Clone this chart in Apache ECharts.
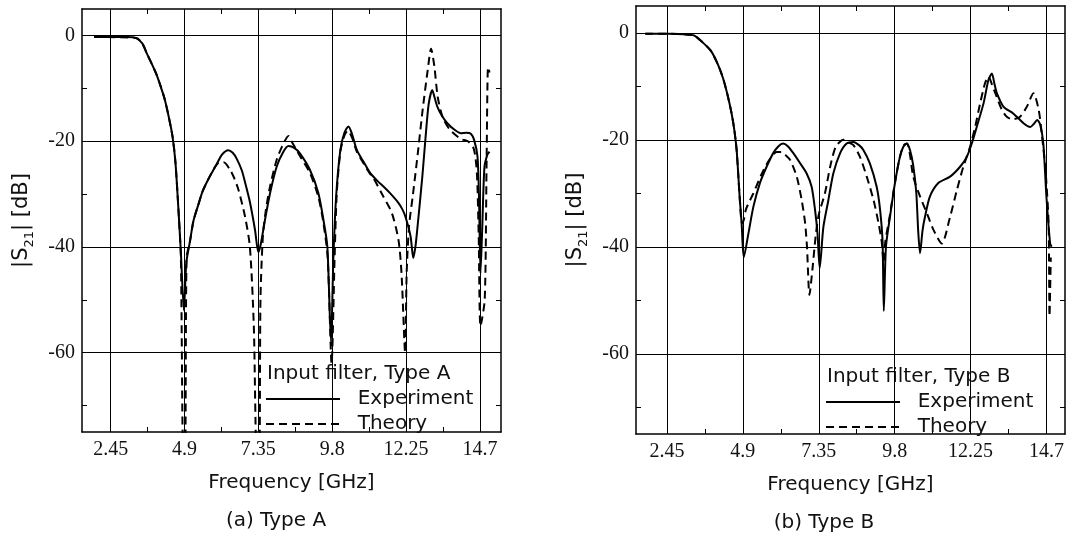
<!DOCTYPE html>
<html>
<head>
<meta charset="utf-8">
<script src="https://cdn.jsdelivr.net/npm/echarts@6/dist/echarts.min.js"></script>
<style>
  html, body { margin: 0; padding: 0; background: #fff; }
  #chart { width: 1068px; height: 537px; }
</style>
</head>
<body>
<div id="chart"></div>
<script>
// tick positions (GHz / dB)
var freqTicks = [2.45, 4.9, 7.35, 9.8, 12.25, 14.7];
var freqMinor = [3.675, 6.125, 8.575, 11.025, 13.475];
var dbTicks = [0, -20, -40, -60];
var dbMinor = [-10, -30, -50, -70];

// (a) Type A  -- [frequency GHz, |S21| dB]
var expA = [
  [1.9,-0.3],[2.5,-0.3],[3.0,-0.3],[3.3,-0.5],[3.5,-1.5],[3.65,-3.4],[3.8,-5.2],[3.98,-7.5],
  [4.1,-9.5],[4.25,-12.2],[4.4,-16],[4.5,-19],[4.6,-24],[4.7,-33],[4.78,-41],[4.88,-52],
  [4.96,-43],[5.08,-39],[5.2,-35],[5.36,-32],[5.5,-29.5],[5.69,-27.2],[5.97,-24.3],[6.15,-22.5],
  [6.35,-21.7],[6.5,-22.2],[6.63,-23.3],[6.8,-25.5],[6.91,-27.8],[7.07,-31.5],[7.24,-36.8],[7.35,-41],
  [7.43,-39.5],[7.57,-34.9],[7.74,-29.8],[7.96,-24.8],[8.18,-22],[8.35,-20.9],[8.55,-21.3],[8.73,-22.3],
  [9.06,-25.4],[9.34,-29.8],[9.51,-34.9],[9.64,-40],[9.76,-58],[9.84,-42],[9.93,-30.5],[10.07,-21.7],
  [10.2,-18.5],[10.34,-17.2],[10.45,-18.5],[10.62,-21.7],[10.85,-24],[11.07,-26.1],[11.3,-27.5],[11.51,-28.6],
  [11.75,-30],[11.96,-31.4],[12.12,-32.8],[12.23,-34.3],[12.4,-38],[12.49,-42.1],[12.56,-40],[12.62,-36.8],
  [12.79,-26.7],[12.9,-19.1],[13.0,-13],[13.12,-10.3],[13.2,-11.8],[13.29,-13.5],[13.45,-15.3],[13.62,-16.6],
  [13.85,-17.8],[14.07,-18.5],[14.25,-18.4],[14.4,-18.6],[14.51,-19.8],[14.62,-22.9],[14.67,-30.5],[14.72,-45],
  [14.78,-36],[14.85,-25],[14.95,-22.5],[15.02,-22]
];
var theoryA = [
  [1.9,-0.3],[3.3,-0.5],[3.5,-1.5],[3.65,-3.4],[3.98,-7.5],[4.25,-12.2],[4.5,-19],[4.6,-24],
  [4.7,-33],[4.78,-42],[4.86,-80],[4.92,-80],[4.97,-42],[5.08,-39],[5.2,-35],[5.36,-32],
  [5.5,-29.5],[5.69,-27.2],[5.9,-25],[6.05,-24],[6.2,-24],[6.41,-25.4],[6.55,-27],[6.69,-29.2],
  [6.91,-34.3],[7.07,-40],[7.2,-55],[7.3,-80],[7.38,-80],[7.42,-50],[7.5,-38],[7.6,-33],
  [7.74,-28.5],[7.96,-23.5],[8.18,-20.5],[8.35,-19],[8.45,-20],[8.6,-21.5],[8.73,-22.8],[9.06,-26],
  [9.34,-30.5],[9.51,-35.5],[9.65,-42],[9.78,-62],[9.88,-42],[9.95,-30],[10.07,-22],[10.2,-19],
  [10.32,-18],[10.45,-19.2],[10.62,-22],[10.85,-24.3],[11.07,-26.3],[11.17,-27],[11.5,-30.5],[11.78,-33.6],
  [12.0,-38.7],[12.1,-45],[12.22,-60],[12.27,-45],[12.35,-36],[12.47,-30.5],[12.64,-22.3],[12.8,-14.1],
  [12.97,-6.5],[13.08,-2.5],[13.19,-5.9],[13.3,-11.6],[13.46,-15.4],[13.7,-17.8],[14.07,-19.6],[14.3,-20],
  [14.5,-21.5],[14.6,-26],[14.66,-38],[14.72,-55],[14.86,-50],[14.92,-25],[14.97,-6],[15.02,-7]
];

// (b) Type B
var expB = [
  [1.75,-0.2],[2.5,-0.2],[3.0,-0.3],[3.32,-0.5],[3.6,-1.8],[3.87,-3.4],[4.1,-6],[4.26,-8.5],
  [4.4,-11.5],[4.53,-14.9],[4.62,-18],[4.7,-22],[4.8,-31],[4.86,-35.6],[4.93,-42],[5.08,-37.5],
  [5.24,-32.5],[5.45,-28.1],[5.67,-25],[5.88,-22.5],[6.05,-21.2],[6.2,-20.7],[6.35,-21.2],[6.53,-22.5],
  [6.75,-24.4],[6.96,-26.3],[7.12,-28.8],[7.23,-33.1],[7.31,-37.5],[7.38,-44],[7.5,-36.3],[7.66,-31.3],
  [7.82,-26.3],[8.04,-22.5],[8.25,-20.7],[8.47,-20.4],[8.65,-21],[8.79,-21.9],[9.0,-24.4],[9.22,-28.8],
  [9.33,-33.1],[9.41,-39],[9.45,-52],[9.52,-40],[9.65,-34.4],[9.81,-28.1],[9.97,-23.2],[10.08,-21.3],
  [10.19,-20.7],[10.3,-22],[10.4,-24.8],[10.5,-30],[10.56,-37],[10.62,-41.2],[10.7,-37],[10.78,-34.4],
  [10.94,-30.6],[11.21,-28.1],[11.59,-26.9],[11.92,-25],[12.13,-23.2],[12.29,-20.7],[12.45,-17.6],[12.67,-13.2],
  [12.83,-8.8],[12.94,-7.6],[13.02,-9.5],[13.1,-11.3],[13.31,-13.8],[13.63,-15.1],[13.96,-16.9],[14.18,-17.6],
  [14.3,-17],[14.4,-16.3],[14.5,-17.2],[14.6,-20.7],[14.7,-30.6],[14.82,-39.4],[14.87,-40]
];
var theoryB = [
  [1.75,-0.2],[2.5,-0.2],[3.0,-0.3],[3.32,-0.5],[3.6,-1.8],[3.87,-3.4],[4.1,-6],[4.26,-8.5],
  [4.4,-11.5],[4.53,-14.9],[4.62,-18],[4.7,-22],[4.8,-31],[4.87,-35.6],[4.93,-35],[5.0,-33],
  [5.24,-30],[5.5,-26.5],[5.75,-23.8],[5.99,-22.3],[6.15,-22.3],[6.3,-23],[6.43,-23.8],[6.64,-26.9],
  [6.8,-31.3],[6.91,-35.6],[6.97,-40],[7.05,-49],[7.15,-44],[7.25,-38],[7.35,-34],[7.55,-30],
  [7.72,-25],[7.9,-21.3],[8.15,-20],[8.3,-20.5],[8.47,-21],[8.68,-23.2],[8.9,-26.9],[9.12,-31.3],
  [9.28,-35.6],[9.39,-39.4],[9.44,-43],[9.5,-39],[9.65,-34],[9.81,-28],[9.97,-23.2],[10.1,-21],
  [10.2,-20.7],[10.3,-23],[10.4,-26.9],[10.62,-30.6],[10.84,-33.7],[11.05,-36.8],[11.32,-39.4],[11.59,-34.4],
  [11.81,-29.4],[12.02,-25],[12.24,-21.2],[12.4,-17.6],[12.56,-13.2],[12.72,-9.4],[12.83,-8.2],[12.95,-9.8],
  [13.05,-11.3],[13.26,-14.4],[13.42,-15.7],[13.6,-16.2],[13.85,-15.7],[14.07,-13.8],[14.28,-11.3],[14.45,-14.4],
  [14.56,-19.4],[14.67,-25.6],[14.77,-35.6],[14.8,-53],[14.84,-42]
];

function interleave(a, b) {
  var out = [];
  for (var i = 0; i < a.length; i++) {
    out.push(a[i]);
    if (i < b.length) out.push(b[i]);
  }
  return out;
}
var xTickVals = interleave(freqTicks, freqMinor);
var yTickVals = interleave(dbTicks, dbMinor);

var serif = 'Liberation Serif';
var sans = 'DejaVu Sans';
var ink = '#111';

var axisLine = { show: true, onZero: false, lineStyle: { color: '#000', width: 1.5 } };
var tick = { show: true, inside: true, length: 5, lineStyle: { color: '#000', width: 1 } };
// every second split line is a minor tick position -> transparent
var xSplit = { show: true, lineStyle: { color: ['#000', 'rgba(0,0,0,0)'], width: 1 } };
var ySplit = { show: true, lineStyle: { color: ['#000', 'rgba(0,0,0,0)'], width: 1 } };

function makeX(gi, min, max) {
  return [{
    type: 'value', gridIndex: gi, position: 'bottom', min: min, max: max,
    axisLine: axisLine,
    axisTick: Object.assign({ customValues: xTickVals }, tick),
    splitLine: xSplit,
    axisLabel: {
      customValues: freqTicks, margin: 8, color: ink, fontFamily: serif, fontSize: 20,
      formatter: function (v) { return String(+(+v).toFixed(3)); }
    },
    name: 'Frequency [GHz]', nameLocation: 'middle', nameGap: 41,
    nameTextStyle: { fontFamily: sans, fontSize: 20, color: ink }
  }, {
    type: 'value', gridIndex: gi, position: 'top', min: min, max: max,
    axisLine: axisLine,
    axisTick: Object.assign({ customValues: xTickVals }, tick),
    splitLine: { show: false },
    axisLabel: { show: false }
  }];
}

function makeY(gi) {
  return [{
    type: 'value', gridIndex: gi, position: 'left', min: -75, max: 5,
    axisLine: axisLine,
    axisTick: Object.assign({ customValues: yTickVals }, tick),
    splitLine: ySplit,
    axisLabel: {
      customValues: dbTicks, margin: 7, color: ink, fontFamily: serif, fontSize: 20
    },
    name: '|S{s|21}| [dB]', nameLocation: 'middle', nameGap: 46,
    nameTextStyle: {
      fontFamily: sans, fontSize: 21, color: ink,
      rich: { s: { fontFamily: sans, fontSize: 13, color: ink, verticalAlign: 'bottom', lineHeight: 28 } }
    }
  }, {
    type: 'value', gridIndex: gi, position: 'right', min: -75, max: 5,
    axisLine: axisLine,
    axisTick: Object.assign({ customValues: yTickVals }, tick),
    splitLine: { show: false },
    axisLabel: { show: false }
  }];
}

function curve(name, data, gi, dashed) {
  return {
    name: name, type: 'line', data: data,
    xAxisIndex: gi * 2, yAxisIndex: gi * 2,
    symbol: 'none', showSymbol: false, smooth: 0.25, clip: true,
    itemStyle: { color: '#000' },
    lineStyle: { color: '#000', width: 2, type: dashed ? [8, 5] : 'solid' },
    z: 3
  };
}

function legendAt(left, top) {
  return {
    orient: 'vertical', left: left, top: top, padding: 0,
    itemWidth: 74, itemHeight: 14, itemGap: 5,
    data: ['Experiment', 'Theory'],
    selectedMode: false,
    itemStyle: { color: 'rgba(0,0,0,0)', borderWidth: 0, opacity: 0 },
    textStyle: { fontFamily: sans, fontSize: 20, color: ink },
    formatter: function (n) { return '  ' + n; }
  };
}

var chart = echarts.init(document.getElementById('chart'), null, { renderer: 'canvas' });

var option = {
  animation: false,
  backgroundColor: '#fff',
  grid: [
    { left: 82, top: 9, width: 419, height: 423 },
    { left: 636, top: 6, width: 429, height: 428 }
  ],
  xAxis: makeX(0, 1.5, 15.4).concat(makeX(1, 1.45, 15.3)),
  yAxis: makeY(0).concat(makeY(1)),
  legend: [legendAt(265, 389), legendAt(825, 392)],
  graphic: [
    { type: 'text', x: 267, y: 374, style: { text: 'Input filter, Type A', font: '20px "DejaVu Sans"', fill: ink, verticalAlign: 'middle' } },
    { type: 'text', x: 827, y: 377, style: { text: 'Input filter, Type B', font: '20px "DejaVu Sans"', fill: ink, verticalAlign: 'middle' } },
    { type: 'text', x: 276, y: 521, style: { text: '(a) Type A', font: '20px "DejaVu Sans"', fill: ink, align: 'center', verticalAlign: 'middle' } },
    { type: 'text', x: 824, y: 523, style: { text: '(b) Type B', font: '20px "DejaVu Sans"', fill: ink, align: 'center', verticalAlign: 'middle' } }
  ],
  series: [
    curve('Experiment', expA, 0, false),
    curve('Theory', theoryA, 0, true),
    curve('Experiment', expB, 1, false),
    curve('Theory', theoryB, 1, true)
  ]
};

chart.setOption(option);
</script>
</body>
</html>
